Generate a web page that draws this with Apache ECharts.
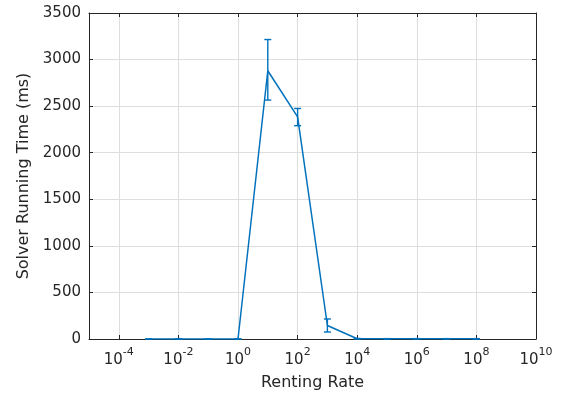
<!DOCTYPE html>
<html>
<head>
<meta charset="utf-8">
<script src="https://cdn.jsdelivr.net/npm/echarts@6/dist/echarts.min.js"></script>
<style>
  html, body { margin: 0; padding: 0; background: #fff; }
  #chart { width: 562px; height: 399px; }
</style>
</head>
<body>
<div id="chart"></div>
<script>
// renting rate (x, log scale) and mean solver time with error bar bounds
const rentingRates = [1e-3, 1e-2, 1e-1, 1e0, 1e1, 1e2, 1e3, 1e4, 1e5, 1e6, 1e7, 1e8]
const runningTime = [0, 0, 0, 0, 2880, 2385, 145, 3, 2, 2, 2, 2]
const errLower = [0, 0, 0, 0, 2565, 2290, 75, 0, 0, 0, 0, 0]
const errUpper = [0, 0, 0, 0, 3215, 2475, 215, 6, 4, 4, 4, 4]
const xTickExponents = [-4, -2, 0, 2, 4, 6, 8, 10]

const lineColor = '#0072BD'
const axisColor = '#262626'
const gridColor = '#dedede'
const fontFamily = 'DejaVu Sans'

const chart = echarts.init(document.getElementById('chart'))

const lineData = rentingRates.map((r, i) => [Math.log10(r), runningTime[i]])
const errData = rentingRates.map((r, i) => [Math.log10(r), errLower[i], errUpper[i]])

function renderErrorBar(params, api) {
  const x = api.value(0)
  const top = api.coord([x, api.value(2)])
  const bot = api.coord([x, api.value(1)])
  const w = 3.5
  const style = { stroke: lineColor, lineWidth: 1.4 }
  return {
    type: 'group',
    children: [
      { type: 'line', shape: { x1: top[0], y1: top[1], x2: bot[0], y2: bot[1] }, style },
      { type: 'line', shape: { x1: top[0] - w, y1: top[1], x2: top[0] + w, y2: top[1] }, style },
      { type: 'line', shape: { x1: bot[0] - w, y1: bot[1], x2: bot[0] + w, y2: bot[1] }, style }
    ]
  }
}

const xBase = {
  type: 'value',
  min: -5,
  max: 10,
  axisLine: { show: true, onZero: false, lineStyle: { color: axisColor, width: 1 } },
  axisTick: { show: true, inside: true, length: 4, customValues: xTickExponents, lineStyle: { color: axisColor } }
}

const yBase = {
  type: 'value',
  min: 0,
  max: 3500,
  interval: 500,
  axisLine: { show: true, onZero: false, lineStyle: { color: axisColor, width: 1 } },
  axisTick: { show: true, inside: true, length: 4, lineStyle: { color: axisColor } }
}

chart.setOption({
  animation: false,
  textStyle: { fontFamily: fontFamily },
  grid: { left: 89, right: 26, top: 13, bottom: 60 },
  xAxis: [
    Object.assign({}, xBase, {
      position: 'bottom',
      name: 'Renting Rate',
      nameLocation: 'middle',
      nameGap: 36,
      nameTextStyle: { color: axisColor, fontSize: 16, fontFamily: fontFamily },
      splitLine: { show: true, lineStyle: { color: gridColor, width: 1 } },
      axisLabel: {
        customValues: xTickExponents,
        margin: 6,
        formatter: v => '{b|10}{s|' + v + '}',
        rich: {
          b: { fontSize: 15, color: axisColor, fontFamily: fontFamily, padding: [8, 0, 0, 0] },
          s: { fontSize: 11, color: axisColor, fontFamily: fontFamily, padding: [0, 0, 8, 0] }
        }
      }
    }),
    Object.assign({}, xBase, {
      position: 'top',
      splitLine: { show: false },
      axisLabel: { show: false }
    })
  ],
  yAxis: [
    Object.assign({}, yBase, {
      position: 'left',
      name: 'Solver Running Time (ms)',
      nameLocation: 'middle',
      nameGap: 52,
      nameTextStyle: { color: axisColor, fontSize: 16, fontFamily: fontFamily },
      splitLine: { show: true, lineStyle: { color: gridColor, width: 1 } },
      axisLabel: { margin: 8, color: axisColor, fontSize: 15, fontFamily: fontFamily, formatter: v => String(v) }
    }),
    Object.assign({}, yBase, {
      position: 'right',
      splitLine: { show: false },
      axisLabel: { show: false }
    })
  ],
  series: [
    {
      type: 'line',
      data: lineData,
      symbol: 'none',
      lineStyle: { color: lineColor, width: 1.5 },
      z: 5
    },
    {
      type: 'custom',
      data: errData,
      encode: { x: 0, y: [1, 2] },
      renderItem: renderErrorBar,
      z: 5
    }
  ]
})
</script>
</body>
</html>
